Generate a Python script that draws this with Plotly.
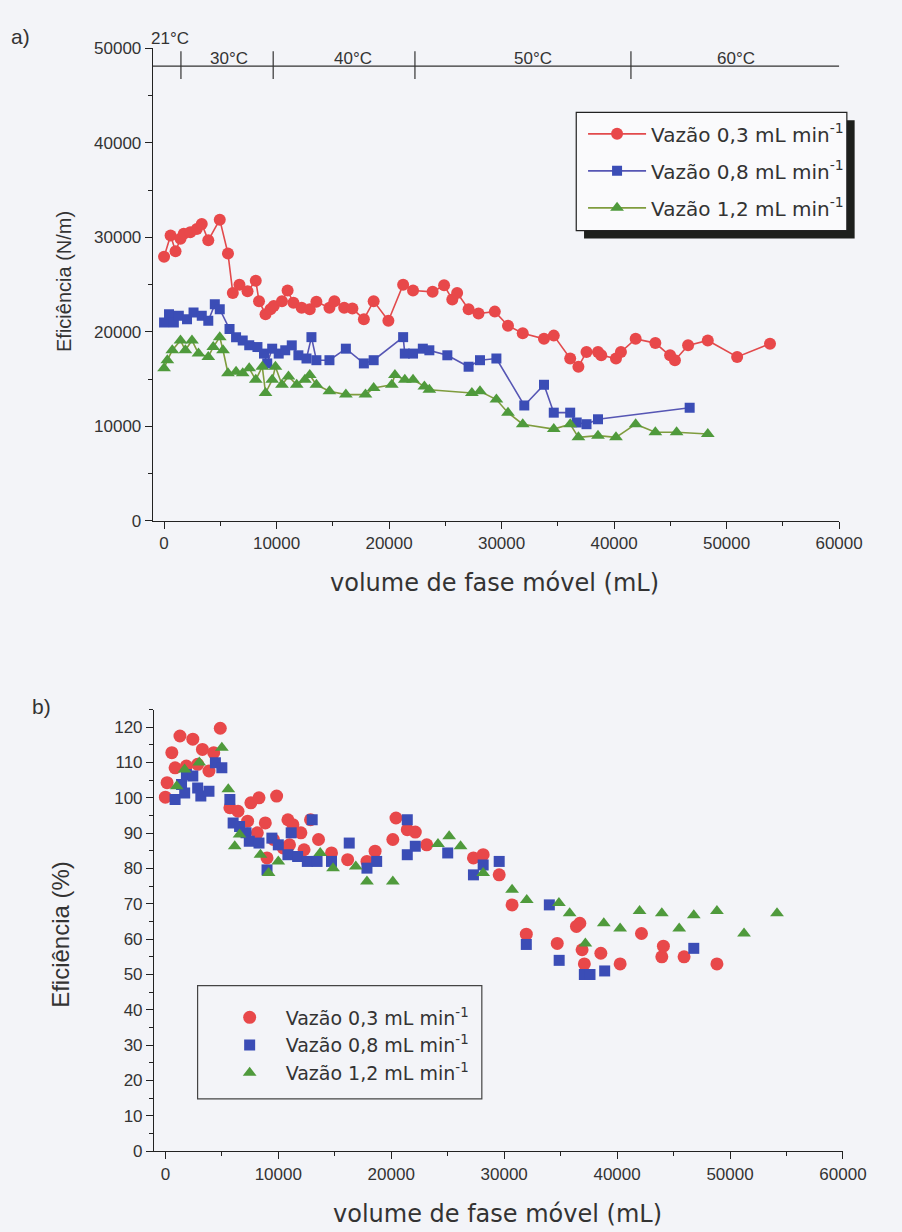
import plotly.graph_objects as go

# ---------------- panel a: efficiency (N/m) vs mobile-phase volume ----------------
a_x_03 = [0, 580, 1020, 1460, 1750, 2330, 2910, 3350, 3930, 4950, 5680, 6110, 6700, 7420,
          8150, 8440, 9020, 9460, 9750, 10480, 10980, 11500, 12230, 12950, 13540, 14700,
          15140, 16010, 16740, 17760, 18630, 19940, 21250, 22130, 23870, 24890, 25620,
          26050, 27070, 27950, 29400, 30570, 31880, 33770, 34640, 36100, 36830, 37550,
          38570, 38860, 40170, 40610, 41920, 43670, 44980, 45410, 46580, 48330, 50940, 53860]
a_y_03 = [27950, 30200, 28540, 29860, 30380, 30550, 30900, 31430, 29690, 31880, 28300, 24130,
          25000, 24300, 25420, 23260, 21880, 22400, 22740, 23260, 24380, 23090, 22570, 22400,
          23200, 22570, 23260, 22570, 22470, 21350, 23260, 21180, 25000, 24380, 24240, 24930,
          23440, 24130, 22400, 21950, 22150, 20660, 19860, 19270, 19610, 17190, 16320, 17880,
          17880, 17530, 17190, 17880, 19270, 18820, 17530, 17010, 18580, 19100, 17360, 18750]

a_x_08 = [0, 440, 870, 1310, 2040, 2620, 3350, 3930, 4510, 4950, 5820, 6400, 6990, 7570,
          8300, 8880, 9170, 9610, 10190, 10770, 11350, 11940, 12660, 13100, 13540, 14700,
          16160, 17760, 18630, 21250, 21400, 22130, 23000, 23580, 25180, 27070, 28080,
          29540, 32020, 33770, 34640, 36100, 36680, 37550, 38570, 46720]
a_y_08 = [21010, 21875, 21010, 21700, 21350, 22050, 21700, 21180, 22920, 22400, 20310, 19450,
          19100, 18580, 18400, 17710, 16670, 18230, 17710, 18060, 18580, 17530, 17190, 19450,
          17010, 17010, 18230, 16670, 17010, 19450, 17710, 17710, 18230, 18060, 17530, 16320,
          17010, 17190, 12220, 14410, 11460, 11460, 10420, 10240, 10760, 11980]

a_x_12 = [0, 290, 730, 1460, 1890, 2480, 3060, 3930, 4370, 4950, 5240, 5680, 6400, 6990,
          7570, 8150, 8730, 9020, 9610, 9900, 10480, 11060, 11790, 12520, 12950, 13540,
          14700, 16160, 17900, 18630, 20240, 20520, 21400, 22130, 23140, 23580, 27360,
          28080, 29540, 30570, 31880, 34640, 36100, 36830, 38570, 40170, 41920, 43670,
          45560, 48330]
a_y_12 = [16150, 17010, 18060, 19100, 18060, 19100, 17710, 17360, 18400, 19450, 18060, 15630,
          15800, 15630, 16150, 14930, 16320, 13540, 14930, 16320, 14410, 15280, 14410, 14930,
          15450, 14410, 13720, 13370, 13370, 14060, 14410, 15450, 14930, 14930, 14240, 13890,
          13540, 13720, 12850, 11460, 10240, 9720, 10240, 8850, 9030, 8850, 10240, 9380,
          9380, 9200]

# temperature steps along the top of panel a (boundaries in mL)
temp_bounds = [1500, 9700, 22300, 41500]
temp_labels = ["21°C", "30°C", "40°C", "50°C", "60°C"]
temp_label_x = [500, 5800, 16800, 32800, 50800]

# ---------------- panel b: efficiency (%) vs mobile-phase volume ----------------
b_x_03 = [0, 150, 570, 860, 1290, 1860, 2430, 2860, 3280, 3860, 4280, 4860, 5710, 6430,
          7280, 7570, 8140, 8290, 8850, 9000, 9570, 9850, 10430, 10850, 10990, 11290, 12000,
          12280, 12850, 13560, 14710, 16140, 17850, 18570, 20140, 20420, 21420, 22130, 23140,
          27280, 28140, 29560, 30700, 31960, 34700, 36400, 36700, 36900, 37100, 38560, 40270,
          42160, 43960, 44100, 45930, 48840]
b_y_03 = [100.2, 104.3, 112.8, 108.5, 117.5, 109.0, 116.6, 109.5, 113.7, 107.6, 112.8, 119.7,
          97.2, 96.2, 93.4, 98.6, 90.1, 100.0, 92.9, 83.0, 88.2, 100.5, 85.8, 93.8, 86.7, 92.4,
          90.1, 85.3, 93.8, 88.2, 84.4, 82.5, 82.0, 84.9, 88.2, 94.3, 91.0, 90.3, 86.7, 83.0,
          83.9, 78.2, 69.7, 61.4, 58.8, 63.6, 64.5, 57.0, 53.0, 56.0, 53.0, 61.6, 55.0, 58.0,
          55.0, 53.0]

b_x_08 = [860, 1430, 1710, 1860, 2430, 2860, 3140, 3860, 4430, 5000, 5710, 6000, 6570, 7140,
          7430, 8290, 9000, 9430, 10000, 10850, 11140, 11710, 12570, 13000, 13430, 14710,
          16280, 17850, 18710, 21420, 21420, 22130, 25000, 27280, 28140, 29560, 31960, 34000,
          34870, 37100, 37600, 38900, 46790]
b_y_08 = [99.5, 103.8, 101.4, 106.6, 106.2, 102.8, 100.5, 101.9, 109.9, 108.5, 99.5, 92.9,
          91.9, 90.1, 87.7, 87.2, 79.6, 88.6, 86.7, 83.9, 90.1, 83.4, 82.0, 93.8, 82.0, 82.0,
          87.2, 80.1, 82.0, 93.8, 83.9, 86.3, 84.4, 78.2, 81.0, 82.0, 58.5, 69.7, 54.0, 50.0,
          50.0, 51.0, 57.4]

b_x_12 = [1000, 1700, 3000, 5000, 5570, 6140, 6570, 8420, 9140, 10000, 13710, 14850, 16860,
          17850, 20140, 24140, 25130, 26140, 28140, 30700, 32000, 34850, 35800, 37190, 38820,
          40270, 41990, 43960, 45500, 46790, 48840, 51240, 54160]
b_y_12 = [103.3, 108.0, 110.0, 114.2, 102.4, 86.3, 89.6, 83.9, 78.7, 82.0, 84.4, 80.1, 80.6,
          76.3, 76.3, 86.9, 89.1, 86.3, 78.7, 74.0, 71.1, 70.2, 67.3, 58.8, 64.5, 63.0, 68.0,
          67.3, 63.0, 66.8, 68.0, 61.6, 67.3]

series_names = ["Vazão 0,3 mL min<sup>-1</sup>",
                "Vazão 0,8 mL min<sup>-1</sup>",
                "Vazão 1,2 mL min<sup>-1</sup>"]

RED, BLUE, GREEN = "#e8484a", "#3b4db6", "#4f9a3c"
RED_LINE, BLUE_LINE, GREEN_LINE = "#e24a4c", "#5656b4", "#7f9c3e"
BG = "#f3f4f8"
INK = "#333333"
TICK_FONT = "Liberation Sans, Arial, sans-serif"
WIDE_FONT = "DejaVu Sans, Verdana, sans-serif"

W, H = 902, 1232


def px_x(p):
    return p / W


def px_y(p):
    return 1 - p / H


fig = go.Figure()

# panel a traces (lines + markers)
for i, (xs, ys, mc, lc, sym, sz) in enumerate([
        (a_x_03, a_y_03, RED, RED_LINE, "circle", 12),
        (a_x_08, a_y_08, BLUE, BLUE_LINE, "square", 10),
        (a_x_12, a_y_12, GREEN, GREEN_LINE, "triangle-up", 12)]):
    fig.add_trace(go.Scatter(
        x=xs, y=ys, mode="lines+markers", name=series_names[i],
        line=dict(color=lc, width=1.6),
        marker=dict(color=mc, symbol=sym, size=sz, line=dict(width=0)),
        xaxis="x", yaxis="y", legend="legend", legendgroup="a%d" % i))

# panel b traces (markers only)
for i, (xs, ys, mc, sym, sz) in enumerate([
        (b_x_03, b_y_03, RED, "circle", 13),
        (b_x_08, b_y_08, BLUE, "square", 11),
        (b_x_12, b_y_12, GREEN, "triangle-up", 12)]):
    fig.add_trace(go.Scatter(
        x=xs, y=ys, mode="markers", name=series_names[i],
        marker=dict(color=mc, symbol=sym, size=sz, line=dict(width=0)),
        xaxis="x2", yaxis="y2", legend="legend2", legendgroup="b%d" % i))

axis_common = dict(
    showline=True, linecolor="#222", linewidth=1.2, ticks="outside", ticklen=7,
    tickwidth=1.2, tickcolor="#222", showgrid=False, zeroline=False, mirror=False,
    tickformat="d", tickfont=dict(family=TICK_FONT, size=17, color=INK),
)
minor_k = dict(ticks="outside", ticklen=4, dtick=5000, tick0=0, tickcolor="#222")
minor_p = dict(ticks="outside", ticklen=4, dtick=5, tick0=0, tickcolor="#222")

# plot-area edges (pixels)
A_L, A_R, A_T, A_B = 157.0, 862.0, 40.0, 520.0
B_L, B_R, B_T, B_B = 158.3, 866.0, 711.5, 1160.0

fig.update_layout(
    width=W, height=H, paper_bgcolor=BG, plot_bgcolor=BG,
    margin=dict(l=0, r=0, t=0, b=0), showlegend=True,
    xaxis=dict(axis_common, domain=[px_x(A_L), px_x(A_R)], range=[-1000, 60000],
               dtick=10000, tick0=0, anchor="y", minor=minor_k),
    yaxis=dict(axis_common, domain=[px_y(A_B), px_y(A_T)], range=[0, 50000],
               dtick=10000, anchor="x", minor=minor_k),
    xaxis2=dict(axis_common, domain=[px_x(B_L), px_x(B_R)], range=[-1000, 60000],
                dtick=10000, tick0=0, anchor="y2", minor=minor_k),
    yaxis2=dict(axis_common, domain=[px_y(B_B), px_y(B_T)], range=[0, 125],
                dtick=10, anchor="x2", minor=minor_p),
    legend=dict(x=px_x(599), y=px_y(107), xanchor="left", yanchor="top",
                bgcolor="rgba(0,0,0,0)", borderwidth=0, itemwidth=58,
                tracegroupgap=8, font=dict(family=WIDE_FONT, size=20, color=INK)),
    legend2=dict(x=px_x(219.5), y=px_y(1005), xanchor="left", yanchor="top",
                 bgcolor="rgba(0,0,0,0)", borderwidth=0, itemwidth=62,
                 tracegroupgap=0, font=dict(family=WIDE_FONT, size=19, color=INK)),
)

shapes = []
# legend box of panel a with its drop shadow
shapes.append(dict(type="rect", xref="paper", yref="paper",
                   x0=px_x(600), x1=px_x(878), y0=px_y(233), y1=px_y(113),
                   fillcolor="#1d1f1c", line=dict(width=0), layer="below"))
shapes.append(dict(type="rect", xref="paper", yref="paper",
                   x0=px_x(592), x1=px_x(870), y0=px_y(225), y1=px_y(105),
                   fillcolor="#fafafc", line=dict(color="#222", width=1.2), layer="below"))
# legend box of panel b
shapes.append(dict(type="rect", xref="paper", yref="paper",
                   x0=px_x(203), x1=px_x(495), y0=px_y(1107), y1=px_y(992),
                   fillcolor=BG, line=dict(color="#444", width=1.2), layer="below"))

# temperature scale along the top of panel a
shapes.append(dict(type="line", xref="x", yref="paper", x0=-1000, x1=60300,
                   y0=px_y(58), y1=px_y(58), line=dict(color="#333", width=1.2)))
for xb in temp_bounds:
    shapes.append(dict(type="line", xref="x", yref="paper", x0=xb, x1=xb,
                       y0=px_y(71), y1=px_y(43), line=dict(color="#333", width=1.2)))
fig.update_layout(shapes=shapes)

annotations = []
for lbl, xl in zip(temp_labels, temp_label_x):
    yl = 30 if lbl.startswith("21") else 50
    annotations.append(dict(x=xl, y=px_y(yl), xref="x", yref="paper", text=lbl,
                            showarrow=False, yanchor="middle", xanchor="center",
                            font=dict(family=TICK_FONT, size=17, color=INK)))

# axis titles
annotations.append(dict(x=px_x(508), y=px_y(583), xref="paper", yref="paper",
                        text="volume de fase móvel (mL)", showarrow=False,
                        xanchor="center", yanchor="middle",
                        font=dict(family=WIDE_FONT, size=24, color=INK)))
annotations.append(dict(x=px_x(65), y=px_y(277), xref="paper", yref="paper",
                        text="Eficiência (N/m)", showarrow=False, textangle=-90,
                        xanchor="center", yanchor="middle",
                        font=dict(family=TICK_FONT, size=20, color=INK)))
annotations.append(dict(x=px_x(511), y=px_y(1224), xref="paper", yref="paper",
                        text="volume de fase móvel (mL)", showarrow=False,
                        xanchor="center", yanchor="middle",
                        font=dict(family=WIDE_FONT, size=24, color=INK)))
annotations.append(dict(x=px_x(62), y=px_y(940), xref="paper", yref="paper",
                        text="Eficiência (%)", showarrow=False, textangle=-90,
                        xanchor="center", yanchor="middle",
                        font=dict(family=TICK_FONT, size=24, color=INK)))

# panel letters
annotations.append(dict(x=px_x(21), y=px_y(28), xref="paper", yref="paper", text="a)",
                        showarrow=False, xanchor="center", yanchor="middle",
                        font=dict(family=TICK_FONT, size=21, color=INK)))
annotations.append(dict(x=px_x(43), y=px_y(708), xref="paper", yref="paper", text="b)",
                        showarrow=False, xanchor="center", yanchor="middle",
                        font=dict(family=TICK_FONT, size=21, color=INK)))
fig.update_layout(annotations=annotations)

fig.write_html("out.html")
